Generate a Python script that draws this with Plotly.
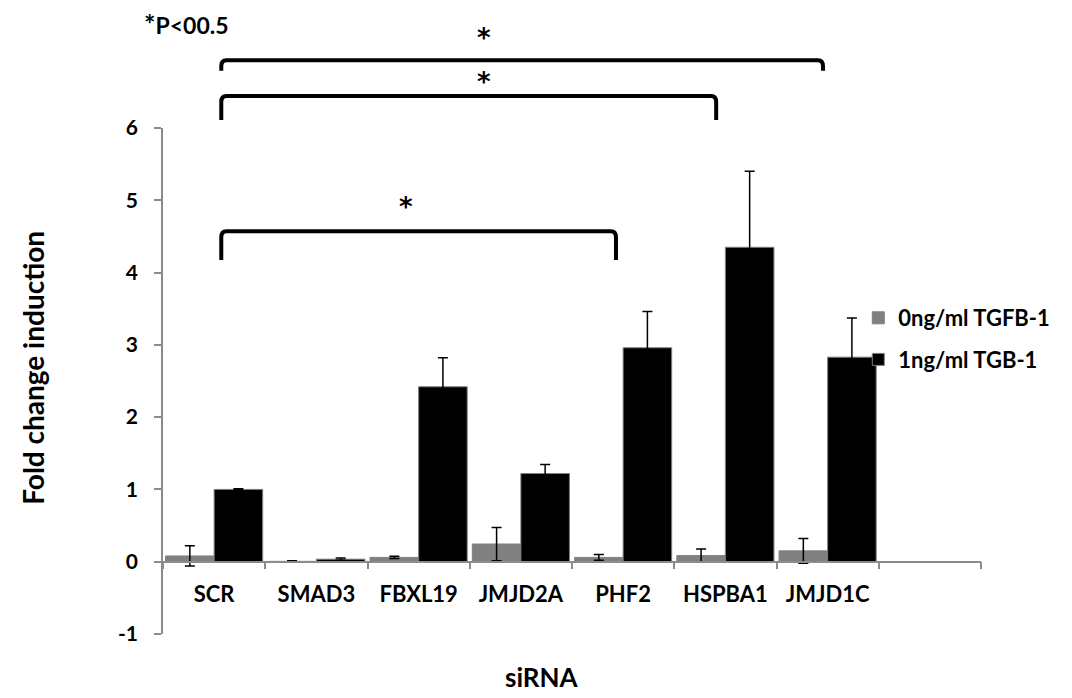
import plotly.graph_objects as go

categories = ["SCR", "SMAD3", "FBXL19", "JMJD2A", "PHF2", "HSPBA1", "JMJD1C"]
series_names = ["0ng/ml TGFB-1", "1ng/ml TGB-1"]
vals_0ng = [0.08, 0.005, 0.06, 0.245, 0.06, 0.085, 0.15]
err_0ng = [0.14, 0.01, 0.015, 0.23, 0.04, 0.09, 0.17]
vals_1ng = [1.0, 0.035, 2.42, 1.22, 2.96, 4.35, 2.83]
err_1ng = [0.01, 0.015, 0.40, 0.125, 0.50, 1.05, 0.54]
y_ticks = [-1, 0, 1, 2, 3, 4, 5, 6]
n_slots = 8  # 7 categories + one empty slot
# significance brackets: (start category index, end category index, label)
brackets = [(0, 6, "*"), (0, 5, "*"), (0, 4, "*")]

FONT = "Lato"
xs = list(range(len(categories)))

fig = go.Figure()
fig.add_trace(go.Bar(
    x=xs, y=vals_0ng, name=series_names[0], legendgroup="a",
    marker=dict(color="#808080", line=dict(color="#808080", width=1)),
    error_y=dict(type="data", array=err_0ng, color="#000000", thickness=1.5, width=5),
))
fig.add_trace(go.Bar(
    x=xs, y=vals_1ng, name=series_names[1], legendgroup="b",
    marker=dict(color="#000000", line=dict(color="#7f7f7f", width=1)),
    error_y=dict(type="data", array=err_1ng, color="#000000", thickness=1.5, width=5),
))

# bracket geometry (x in data units, y in paper units)
bracket_levels = [(1.134, 1.113), (1.063, 1.016), (0.796, 0.739)]
bracket_x_adj = [(0.07, -0.045), (0.07, -0.09), (0.07, -0.07)]
star_pos = [(2.64, 1.178), (2.64, 1.091), (1.877, 0.844)]
shapes = []
annotations = []
rx, ry = 0.05, 0.012
for (i0, i1, lab), (ytop, ybot), (a0, a1), (sx, sy) in zip(brackets, bracket_levels, bracket_x_adj, star_pos):
    x0 = i0 + a0
    x1 = i1 + a1
    path = (f"M {x0},{ybot} L {x0},{ytop - ry} Q {x0},{ytop} {x0 + rx},{ytop} "
            f"L {x1 - rx},{ytop} Q {x1},{ytop} {x1},{ytop - ry} L {x1},{ybot}")
    shapes.append(dict(type="path", path=path, xref="x", yref="paper",
                       line=dict(color="#000000", width=4)))
    annotations.append(dict(x=sx, y=sy, xref="x", yref="paper", text=lab, showarrow=False,
                            font=dict(family="DejaVu Sans", size=26, color="#000000", weight="bold"),
                            xanchor="center", yanchor="middle"))

annotations.append(dict(x=-0.026, y=1.207, xref="paper", yref="paper",
                        text="<span style='font-size:27px'>*</span>P&lt;00.5",
                        showarrow=False, xanchor="left", yanchor="middle",
                        font=dict(family=FONT, size=23, color="#000000", weight="bold")))
annotations.append(dict(x=-0.159, y=0.526, xref="paper", yref="paper", text="Fold change induction",
                        showarrow=False, textangle=-90, xanchor="center", yanchor="middle",
                        font=dict(family=FONT, size=28, color="#000000", weight="bold")))
annotations.append(dict(x=0.463, y=-0.12, xref="paper", yref="paper", text="siRNA",
                        showarrow=False, xanchor="center", yanchor="bottom",
                        font=dict(family=FONT, size=26, color="#000000", weight="bold")))

fig.update_layout(
    width=1072, height=698,
    margin=dict(l=155, r=99, t=120, b=72),
    paper_bgcolor="white", plot_bgcolor="white",
    barmode="group", bargap=0.05, bargroupgap=0,
    showlegend=True,
    legend=dict(x=0.85, y=0.666, xanchor="left", yanchor="top", traceorder="grouped",
                tracegroupgap=10, itemwidth=30, bgcolor="rgba(0,0,0,0)",
                font=dict(family=FONT, size=22, color="#000000", weight="bold")),
    shapes=shapes,
    annotations=annotations,
    xaxis=dict(
        range=[-0.5, n_slots - 0.5], tickmode="array", tickvals=xs, ticktext=categories,
        ticks="", showline=True, linecolor="#8c8c8c", linewidth=1.5,
        anchor="free", position=1 / 7, showgrid=False, zeroline=False,
        ticklabelstandoff=13,
        tickfont=dict(family=FONT, size=22, color="#000000", weight="bold"),
        minor=dict(tickmode="array", tickvals=[k - 0.5 for k in range(n_slots + 1)],
                   ticks="outside", ticklen=7, tickcolor="#8c8c8c", tickwidth=1.5, showgrid=False),
    ),
    yaxis=dict(
        range=[-1, 6], tickmode="array", tickvals=y_ticks, ticktext=[str(v) for v in y_ticks],
        ticks="outside", ticklen=7,
        tickcolor="#8c8c8c", tickwidth=1.5, showline=True, linecolor="#8c8c8c", linewidth=1.5,
        showgrid=False, zeroline=False, ticklabelstandoff=12,
        tickfont=dict(family=FONT, size=21, color="#000000", weight="bold"),
    ),
)

fig.write_html("out.html")
